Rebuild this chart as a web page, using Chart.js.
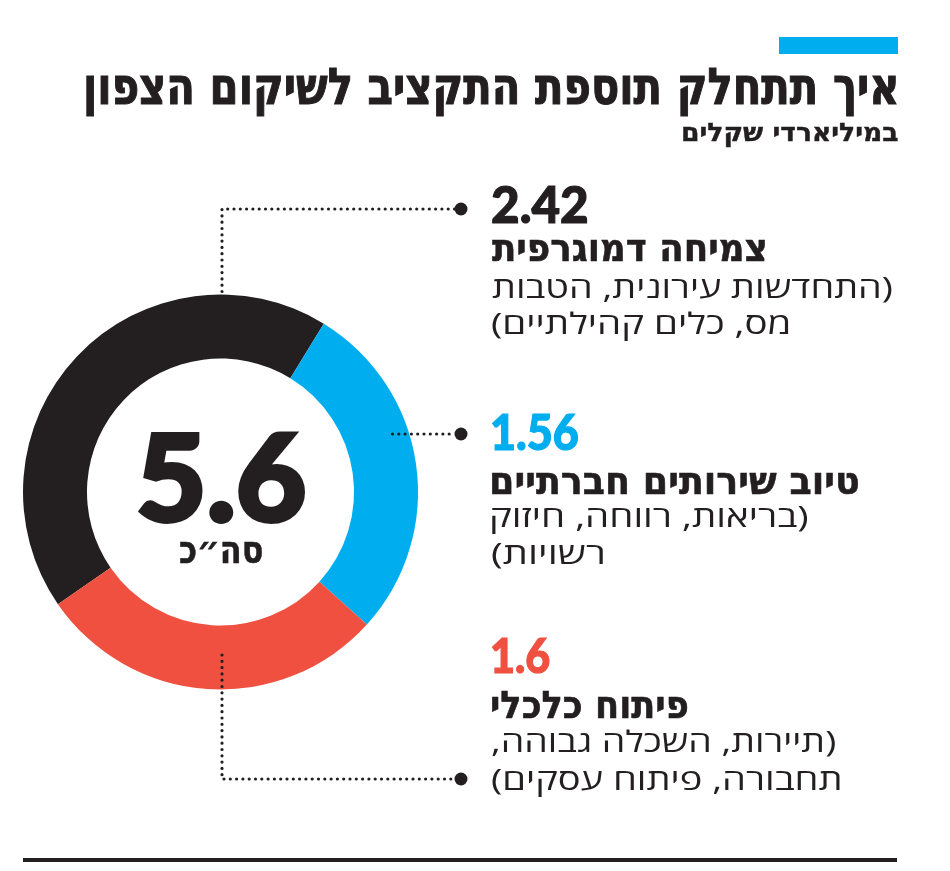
<!DOCTYPE html>
<html>
<head>
<meta charset="UTF-8">
<title>איך תתחלק תוספת התקציב לשיקום הצפון</title>
<script src="https://cdn.jsdelivr.net/npm/chart.js@4.4.1/dist/chart.umd.min.js"></script>
<style>
  html,body{margin:0;padding:0;background:#fff;}
  body{width:950px;height:871px;position:relative;overflow:hidden;}
  #chartBox{position:absolute;left:0;top:0;width:950px;height:871px;}
  .t{position:absolute;left:0;top:0;white-space:nowrap;transform-origin:0 0;line-height:1.2;color:#231f20;}
  .mk{display:inline-block;width:0;height:0;}
  #topBar{position:absolute;left:779px;top:37px;width:119px;height:17px;background:#00aeef;}
  #rule{position:absolute;left:23px;top:858px;width:874px;height:3.5px;background:#231f20;}
</style>
</head>
<body>
<div id="topBar"></div>
<div id="chartBox"><canvas id="chart" width="950" height="871"></canvas></div>
<div id="rule"></div>

<script>
// data
const categories = ['צמיחה דמוגרפית', 'טיוב שירותים חברתיים', 'פיתוח כלכלי'];
const values = [2.42, 1.56, 1.6];
const valueLabels = ['2.42', '1.56', '1.6'];
const details = [
  ['(התחדשות עירונית, הטבות', 'מס, כלים קהילתיים)'],
  ['(בריאות, רווחה, חיזוק', 'רשויות)'],
  ['(תיירות, השכלה גבוהה,', 'תחבורה, פיתוח עסקים)']
];
const colors = ['#231f20', '#00aeef', '#ef5040'];
const title = 'איך תתחלק תוספת התקציב לשיקום הצפון';
const subtitle = 'במיליארדי שקלים';
const totalLabel = 'סה״כ';

// label layout (px): baselines and ink widths
const labelLeft = 492;
const numBase = [223, 450, 673];
const numH = [37, 35, 34];
const numW = [95, 86, 58];
const headBase = [261, 494, 718];
const headW = [273, 366, 195];
const detBase = [[298, 334], [527, 564], [752, 790]];
const detW = [[400, 296], [316, 111], [343, 348]];
const dotX = 461;
const dotY = [209, 434, 779];

const ink = '#231f20';
const leaders = {
  id: 'leaders',
  afterDatasetsDraw(chart){
    const arc = chart.getDatasetMeta(0).data[0];
    const cx = arc.x, cy = arc.y, R = arc.outerRadius;
    const c = chart.ctx;
    c.save();
    c.strokeStyle = ink;
    c.lineWidth = 3.2;
    c.lineCap = 'round';
    c.setLineDash([0, 6.3]);
    const line = pts => {
      c.beginPath();
      c.moveTo(pts[0][0], pts[0][1]);
      pts.slice(1).forEach(p => c.lineTo(p[0], p[1]));
      c.stroke();
    };
    const px = cx + 1.5;
    line([[px, cy - R - 3], [px, dotY[0]], [dotX - 6, dotY[0]]]);
    line([[cx + 172, dotY[1]], [dotX - 6, dotY[1]]]);
    line([[px, cy + 163], [px, dotY[2]], [dotX - 6, dotY[2]]]);
    c.setLineDash([]);
    c.fillStyle = ink;
    dotY.forEach(y => { c.beginPath(); c.arc(dotX, y, 6.5, 0, Math.PI * 2); c.fill(); });
    c.restore();
  }
};

new Chart(document.getElementById('chart'), {
  type: 'doughnut',
  data: {
    labels: categories,
    datasets: [{data: values, backgroundColor: colors, borderWidth: 0, hoverOffset: 0}]
  },
  options: {
    responsive: false,
    animation: false,
    rotation: -124.6,
    cutout: '67.6%',
    layout: {padding: {left: 23, top: 294.5, right: 532, bottom: 181.5}},
    plugins: {legend: {display: false}, tooltip: {enabled: false}}
  },
  plugins: [leaders]
});

// text, sized so ink height and width match the reference
const mctx = document.createElement('canvas').getContext('2d');
function place(text, o){
  const el = document.createElement('div');
  el.className = 't';
  el.dir = 'rtl';
  el.textContent = text;
  const mk = document.createElement('span');
  mk.className = 'mk';
  el.appendChild(mk);
  const color = o.color || ink;
  el.style.fontFamily = o.font;
  el.style.fontWeight = o.weight;
  el.style.color = color;
  if (o.stroke) el.style.webkitTextStroke = o.stroke + 'px ' + color;
  mctx.direction = 'rtl';
  mctx.textAlign = 'left';
  mctx.font = o.weight + ' 100px ' + o.font;
  const size = o.h / mctx.measureText(o.ref || 'ה').actualBoundingBoxAscent * 100;
  el.style.fontSize = size + 'px';
  mctx.font = o.weight + ' ' + size + 'px ' + o.font;
  const m = mctx.measureText(text);
  const s = o.w / (m.actualBoundingBoxLeft + m.actualBoundingBoxRight);
  document.body.appendChild(el);
  el.style.left = (o.x + m.actualBoundingBoxLeft * s) + 'px';
  el.style.top = (o.y - mk.offsetTop) + 'px';
  el.style.transform = 'scaleX(' + s + ')';
}

const condensed = '"DejaVu Sans Condensed", "DejaVu Sans", sans-serif';
const heavy = '"DejaVu Sans", sans-serif';
const light = '"Open Sans", "DejaVu Sans", sans-serif';
const digits = 'Lato, "DejaVu Sans", sans-serif';

place(title, {font: condensed, weight: 'bold', h: 28, x: 87, w: 810, y: 104, stroke: 1});
place(subtitle, {font: condensed, weight: 'bold', h: 14, x: 683, w: 214, y: 141, stroke: 0.4});

const total = values.reduce((a, b) => a + b, 0);
place(total.toFixed(1), {font: digits, weight: 900, h: 86, ref: '5', x: 140, w: 163, y: 521, stroke: 4});
place(totalLabel, {font: heavy, weight: 'bold', h: 21, x: 180, w: 82, y: 563, stroke: 0.6});

categories.forEach((cat, i) => {
  place(valueLabels[i], {font: digits, weight: 900, h: numH[i], ref: '5', x: labelLeft, w: numW[i], y: numBase[i], color: colors[i], stroke: 1.2});
  place(cat, {font: heavy, weight: 'bold', h: 21, x: labelLeft, w: headW[i], y: headBase[i], stroke: 0.6});
  details[i].forEach((line, j) => {
    place(line, {font: light, weight: 'normal', h: 19, x: labelLeft, w: detW[i][j], y: detBase[i][j]});
  });
});
</script>
</body>
</html>
